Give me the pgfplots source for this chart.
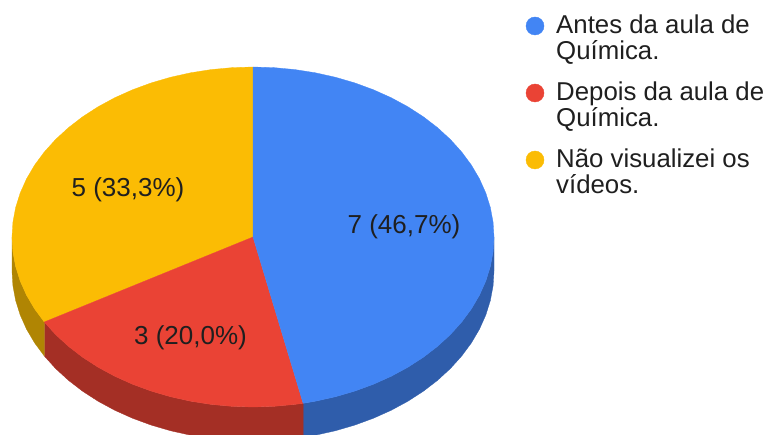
\documentclass[border=0pt]{standalone}
\usepackage{pgfplots}
\pgfplotsset{compat=1.18}
\usepackage{fontspec}
\setmainfont{Liberation Sans}
\definecolor{fatiaAzul}{HTML}{4285F4}
\definecolor{fatiaVermelha}{HTML}{EA4335}
\definecolor{fatiaAmarela}{HTML}{FBBC04}
\definecolor{bordaAzul}{HTML}{2F5DAB}
\definecolor{bordaVermelha}{HTML}{A42F25}
\definecolor{bordaAmarela}{HTML}{B08503}
\definecolor{textoEscuro}{HTML}{1F1F1F}
\begin{document}
\begin{tikzpicture}
\path[use as bounding box] (0,0) rectangle (765pt,435pt);
\begin{axis}[
  at={(0,0)}, anchor=south west,
  width=765pt, height=435pt, scale only axis,
  xmin=0, xmax=765, ymin=0, ymax=435,
  y dir=reverse, hide axis, clip=true,
]
% side wall of the 3D pie, one band per slice (7, 3 and 5 answers out of 15)
\addplot[fill=bordaAzul, draw=bordaAzul, line width=0.3pt] coordinates {
  (494,237) (493.08,251.82) (490.34,266.52) (485.79,281) (479.47,295.14) (471.42,308.85)
  (461.71,322) (450.42,334.51) (437.62,346.27) (423.41,357.21) (407.91,367.23)
  (391.23,376.26) (373.5,384.22) (354.85,391.07) (335.43,396.75) (315.38,401.21) (303.11,403.29)
  (303.11,437.29) (315.38,435.21) (335.43,430.75) (354.85,425.07) (373.5,418.22) (391.23,410.26)
  (407.91,401.23) (423.41,391.21) (437.62,380.27) (450.42,368.51) (461.71,356)
  (471.42,342.85) (479.47,329.14) (485.79,315) (490.34,300.52) (493.08,285.82) (494,271)
} -- cycle;
\addplot[fill=bordaVermelha, draw=bordaVermelha, line width=0.3pt] coordinates {
  (303.11,403.29) (294.85,404.42) (274,406.35) (253,407) (232,406.35) (211.15,404.42)
  (190.62,401.21) (170.57,396.75) (151.15,391.07) (132.5,384.22) (114.77,376.26)
  (98.09,367.23) (82.59,357.21) (68.38,346.27) (55.58,334.51) (44.29,322)
  (44.29,356) (55.58,368.51) (68.38,380.27) (82.59,391.21) (98.09,401.23) (114.77,410.26)
  (132.5,418.22) (151.15,425.07) (170.57,430.75) (190.62,435.21) (211.15,438.42)
  (232,440.35) (253,441) (274,440.35) (294.85,438.42) (303.11,437.29)
} -- cycle;
\addplot[fill=bordaAmarela, draw=bordaAmarela, line width=0.3pt] coordinates {
  (44.29,322) (34.58,308.85) (26.53,295.14) (20.21,281) (15.66,266.52) (12.92,251.82) (12,237)
  (12,271) (12.92,285.82) (15.66,300.52) (20.21,315) (26.53,329.14) (34.58,342.85) (44.29,356)
} -- cycle;
% top face: 5 answers (33,3%)
\addplot[fill=fatiaAmarela, draw=fatiaAmarela, line width=0.3pt] coordinates {
  (253,237) (44.29,322) (34.58,308.85) (26.53,295.14) (20.21,281) (15.66,266.52) (12.92,251.82)
  (12,237) (12.92,222.18) (15.66,207.48) (20.21,193) (26.53,178.86) (34.58,165.15) (44.29,152)
  (55.58,139.49) (68.38,127.73) (82.59,116.79) (98.09,106.77) (114.77,97.74) (132.5,89.78)
  (151.15,82.93) (170.57,77.25) (190.62,72.79) (211.15,69.58) (232,67.65) (253,67)
} -- cycle;
% top face: 3 answers (20,0%)
\addplot[fill=fatiaVermelha, draw=fatiaVermelha, line width=0.3pt] coordinates {
  (253,237) (303.11,403.29) (294.85,404.42) (274,406.35) (253,407) (232,406.35) (211.15,404.42)
  (190.62,401.21) (170.57,396.75) (151.15,391.07) (132.5,384.22) (114.77,376.26)
  (98.09,367.23) (82.59,357.21) (68.38,346.27) (55.58,334.51) (44.29,322)
} -- cycle;
% top face: 7 answers (46,7%)
\addplot[fill=fatiaAzul, draw=fatiaAzul, line width=0.3pt] coordinates {
  (253,237) (253,67) (274,67.65) (294.85,69.58) (315.38,72.79) (335.43,77.25) (354.85,82.93)
  (373.5,89.78) (391.23,97.74) (407.91,106.77) (423.41,116.79) (437.62,127.73) (450.42,139.49)
  (461.71,152) (471.42,165.15) (479.47,178.86) (485.79,193) (490.34,207.48) (493.08,222.18)
  (494,237) (493.08,251.82) (490.34,266.52) (485.79,281) (479.47,295.14) (471.42,308.85)
  (461.71,322) (450.42,334.51) (437.62,346.27) (423.41,357.21) (407.91,367.23)
  (391.23,376.26) (373.5,384.22) (354.85,391.07) (335.43,396.75) (315.38,401.21) (303.11,403.29)
} -- cycle;
% legend markers
\addplot[only marks, mark=*, mark size=9pt, fatiaAzul, mark options={draw=fatiaAzul, fill=fatiaAzul}] coordinates {(535,26)};
\addplot[only marks, mark=*, mark size=9pt, fatiaVermelha, mark options={draw=fatiaVermelha, fill=fatiaVermelha}] coordinates {(535,93)};
\addplot[only marks, mark=*, mark size=9pt, fatiaAmarela, mark options={draw=fatiaAmarela, fill=fatiaAmarela}] coordinates {(535,160)};
% value labels
\node[anchor=base, font=\fontsize{26pt}{26pt}\selectfont, text=textoEscuro] at (axis cs:404,234) {7 (46,7\%)};
\node[anchor=base, font=\fontsize{26pt}{26pt}\selectfont, text=textoEscuro] at (axis cs:190.5,344.5) {3 (20,0\%)};
\node[anchor=base, font=\fontsize{26pt}{26pt}\selectfont, text=textoEscuro] at (axis cs:128,197) {5 (33,3\%)};
% legend text, two lines per entry
\node[anchor=base west, inner sep=0pt, font=\fontsize{25.8pt}{26pt}\selectfont, text=textoEscuro] at (axis cs:556,33.5) {Antes da aula de};
\node[anchor=base west, inner sep=0pt, font=\fontsize{25.8pt}{26pt}\selectfont, text=textoEscuro] at (axis cs:556,59.5) {Química.};
\node[anchor=base west, inner sep=0pt, font=\fontsize{25.8pt}{26pt}\selectfont, text=textoEscuro] at (axis cs:556,100.5) {Depois da aula de};
\node[anchor=base west, inner sep=0pt, font=\fontsize{25.8pt}{26pt}\selectfont, text=textoEscuro] at (axis cs:556,126.5) {Química.};
\node[anchor=base west, inner sep=0pt, font=\fontsize{25.8pt}{26pt}\selectfont, text=textoEscuro] at (axis cs:556,167.5) {Não visualizei os};
\node[anchor=base west, inner sep=0pt, font=\fontsize{25.8pt}{26pt}\selectfont, text=textoEscuro] at (axis cs:556,193.5) {vídeos.};
\end{axis}
\end{tikzpicture}
\end{document}
